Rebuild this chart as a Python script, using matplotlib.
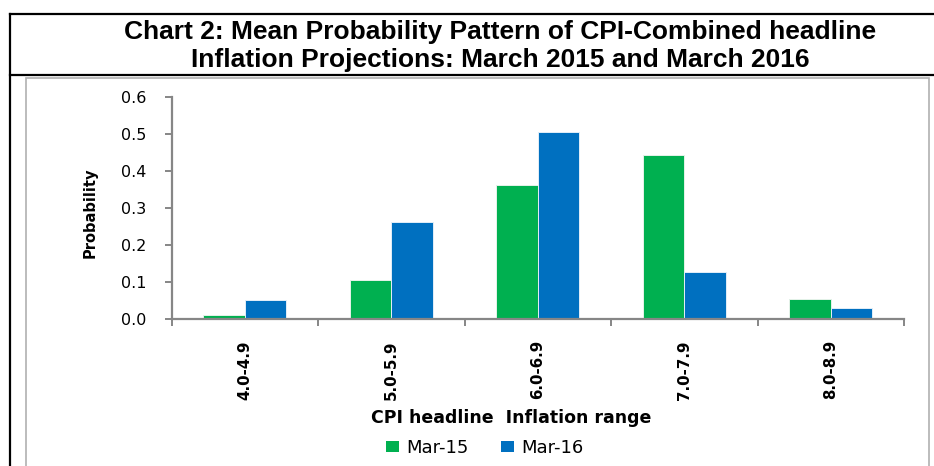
import matplotlib
matplotlib.use("Agg")
import matplotlib.pyplot as plt
import numpy as np
from matplotlib.patches import Patch, Rectangle
from matplotlib.lines import Line2D

# values
ranges = ["4.0-4.9", "5.0-5.9", "6.0-6.9", "7.0-7.9", "8.0-8.9"]
mar15 = [0.011, 0.106, 0.362, 0.443, 0.054]
mar16 = [0.051, 0.264, 0.506, 0.128, 0.030]
series_names = ["Mar-15", "Mar-16"]
yticks = [0.0, 0.1, 0.2, 0.3, 0.4, 0.5, 0.6]
ytick_labels = ["0.0", "0.1", "0.2", "0.3", "0.4", "0.5", "0.6"]
title_lines = [
    "Chart 2: Mean Probability Pattern of CPI-Combined headline",
    "Inflation Projections: March 2015 and March 2016",
]

W, H = 934, 466
GREEN = "#00B050"
BLUE = "#0070C0"
AXIS_GREY = "#868686"


def px(x, y):
    """pixel position (from top left) -> figure fraction"""
    return x / W, 1 - y / H


fig = plt.figure(figsize=(W / 100, H / 100), dpi=100)
fig.patch.set_facecolor("white")

# outer frame of the title box
for xs, ys in [((10, 934), (13.5, 13.5)), ((10, 934), (75, 75)), ((10, 10), (13.5, 466))]:
    fx = [x / W for x in xs]
    fy = [1 - y / H for y in ys]
    fig.add_artist(Line2D(fx, fy, color="black", lw=1.6, transform=fig.transFigure))

# grey chart-area box (bottom edge falls off the canvas)
x0, y0 = px(26, 470)
x1, y1 = px(929, 78)
fig.add_artist(Rectangle((x0, y0), x1 - x0, y1 - y0, transform=fig.transFigure,
                         fill=False, edgecolor="#B0B0B0", lw=1.2))

# title, two lines
for line, yb in zip(title_lines, [38.5, 66.5]):
    fig.text(*px(500, yb), line, ha="center", va="baseline", fontsize=19,
             fontweight="bold", family=["Liberation Sans", "DejaVu Sans"])

# axes placed where the plot area sits in the reference
left, top = px(171.5, 97.3)
right, bottom = px(904, 319.3)
ax = fig.add_axes([left, bottom, right - left, top - bottom])

x = np.arange(len(ranges))
w = 0.284
ax.bar(x - w / 2, mar15, w, color=GREEN, edgecolor="#E6F2EA", lw=0.7, label=series_names[0])
ax.bar(x + w / 2, mar16, w, color=BLUE, edgecolor="#E3EEF8", lw=0.7, label=series_names[1])

ax.set_xlim(-0.5, len(ranges) - 0.5)
ax.set_ylim(0, 0.6)

for s in ["top", "right"]:
    ax.spines[s].set_visible(False)
for s in ["left", "bottom"]:
    ax.spines[s].set_color(AXIS_GREY)
    ax.spines[s].set_linewidth(1.6)

ax.set_yticks(yticks)
ax.set_yticklabels(ytick_labels, fontsize=11.5, family="DejaVu Sans")
ax.tick_params(axis="y", direction="out", length=5, width=1.4, color=AXIS_GREY, pad=13)

# category labels at centres, tick marks on the boundaries
ax.set_xticks(x)
ax.set_xticklabels(ranges, rotation=90, fontsize=10.8, fontweight="bold", family="DejaVu Sans")
ax.tick_params(axis="x", which="major", length=0, pad=15)
ax.set_xticks(np.arange(len(ranges) + 1) - 0.5, minor=True)
ax.tick_params(axis="x", which="minor", direction="out", length=5, width=1.4, color=AXIS_GREY)

fig.text(*px(90, 213), "Probability", rotation=90, ha="center", va="center",
         fontsize=10.5, fontweight="bold", family="DejaVu Sans")
fig.text(*px(511, 418), "CPI headline  Inflation range", ha="center", va="center",
         fontsize=12.5, fontweight="bold", family="DejaVu Sans")

handles = [Patch(facecolor=GREEN), Patch(facecolor=BLUE)]
fig.legend(handles, series_names, loc="center", bbox_to_anchor=px(485, 448), ncol=2,
           frameon=False, handlelength=0.72, handleheight=0.6,
           handletextpad=0.39, columnspacing=1.8, borderpad=0,
           prop={"family": "DejaVu Sans", "size": 13})

fig.savefig("out.png", dpi=100)
